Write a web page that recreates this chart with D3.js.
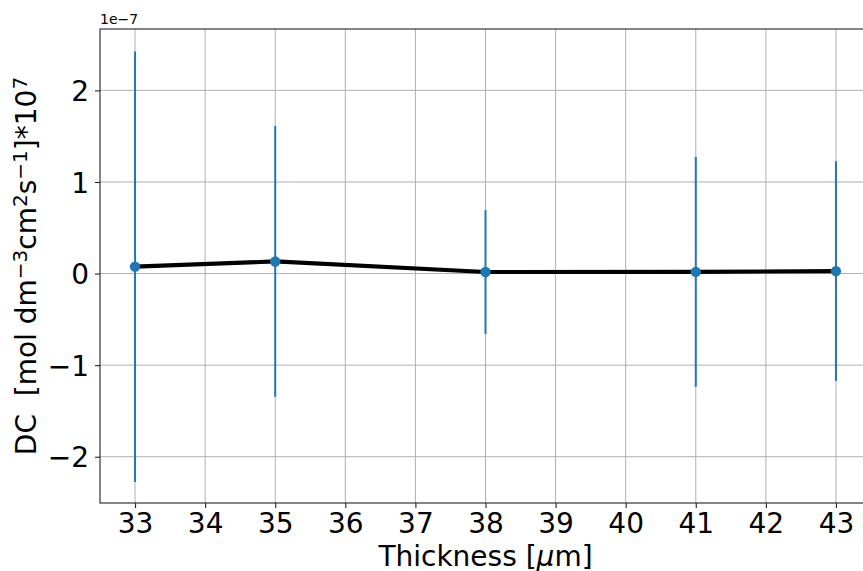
<!DOCTYPE html>
<html>
<head>
<meta charset="utf-8">
<script src="https://cdn.jsdelivr.net/npm/d3@7"></script>
<style>
  body { margin: 0; background: white; }
  text { font-family: "DejaVu Sans", sans-serif; fill: black; }
</style>
</head>
<body>
<div id="chart"></div>
<script>

// thickness in micrometres
var thickness = [33, 35, 38, 41, 43];
// diffusion coefficient and its error
var dcValues = [0.075e-7, 0.132e-7, 0.017e-7, 0.018e-7, 0.027e-7];
var dcErrors = [2.35e-7, 1.478e-7, 0.676e-7, 1.255e-7, 1.199e-7];
var xTicks = [33, 34, 35, 36, 37, 38, 39, 40, 41, 42, 43];
var yTicks = [-2e-7, -1e-7, 0, 1e-7, 2e-7];

var width = 863, height = 571;
var plotLeft = 100, plotRight = 871, plotTop = 29, plotBottom = 503;

var svg = d3.select("#chart")
    .append("svg")
    .attr("width", width)
    .attr("height", height);

svg.append("rect")
    .attr("width", "100%")
    .attr("height", "100%")
    .attr("fill", "white");

var x = d3.scaleLinear().domain([32.5, 43.5]).range([plotLeft, plotRight]);
var y = d3.scaleLinear().domain([-2.505e-7, 2.67e-7]).range([plotBottom, plotTop]);

function fmt(v) {
    var n = Math.round(v / 1e-7);
    return n < 0 ? "\u2212" + Math.abs(n) : String(n);
}

// grid
var grid = svg.append("g")
    .attr("stroke", "#b0b0b0")
    .attr("stroke-width", 1);

grid.selectAll(".gx")
    .data(xTicks)
    .enter().append("line")
    .attr("x1", function(d) { return x(d); })
    .attr("x2", function(d) { return x(d); })
    .attr("y1", plotTop)
    .attr("y2", plotBottom);

grid.selectAll(".gy")
    .data(yTicks)
    .enter().append("line")
    .attr("x1", plotLeft)
    .attr("x2", plotRight)
    .attr("y1", function(d) { return y(d); })
    .attr("y2", function(d) { return y(d); });

// axes
var xAxis = svg.append("g")
    .attr("transform", "translate(0," + plotBottom + ")")
    .call(d3.axisBottom(x).tickValues(xTicks).tickSize(5).tickPadding(6).tickFormat(d3.format("d")));

var yAxis = svg.append("g")
    .attr("transform", "translate(" + plotLeft + ",0)")
    .call(d3.axisLeft(y).tickValues(yTicks).tickSize(5).tickPadding(6).tickFormat(fmt));

[xAxis, yAxis].forEach(function(a) {
    a.select(".domain").remove();
    a.selectAll("line").attr("stroke", "#222").attr("stroke-width", 1.1);
    a.selectAll("text")
        .style("font-family", "DejaVu Sans")
        .style("font-size", "28px")
        .attr("fill", "black");
});
xAxis.selectAll("text").attr("dy", "0.68em");
yAxis.selectAll("text").attr("dy", "0.36em");

// spines
svg.append("rect")
    .attr("x", plotLeft)
    .attr("y", plotTop)
    .attr("width", plotRight - plotLeft)
    .attr("height", plotBottom - plotTop)
    .attr("fill", "none")
    .attr("stroke", "#222")
    .attr("stroke-width", 1.1);

// error bars
svg.append("g")
    .selectAll("line")
    .data(thickness)
    .enter().append("line")
    .attr("x1", function(d) { return x(d); })
    .attr("x2", function(d) { return x(d); })
    .attr("y1", function(d, i) { return y(dcValues[i] + dcErrors[i]); })
    .attr("y2", function(d, i) { return y(dcValues[i] - dcErrors[i]); })
    .attr("stroke", "#1f77b4")
    .attr("stroke-width", 2);

var line = d3.line()
    .x(function(d) { return x(d); })
    .y(function(d, i) { return y(dcValues[i]); });

svg.append("path")
    .datum(thickness)
    .attr("d", line)
    .attr("fill", "none")
    .attr("stroke", "black")
    .attr("stroke-width", 4.2)
    .attr("stroke-linejoin", "round");

svg.append("g")
    .selectAll("circle")
    .data(thickness)
    .enter().append("circle")
    .attr("cx", function(d) { return x(d); })
    .attr("cy", function(d, i) { return y(dcValues[i]); })
    .attr("r", 5.2)
    .attr("fill", "#1f77b4");

// offset text
svg.append("text")
    .attr("x", plotLeft)
    .attr("y", 24)
    .style("font-size", "14px")
    .text("1e\u22127");

// x label
var xl = svg.append("text")
    .attr("x", (plotLeft + plotRight) / 2)
    .attr("y", 566)
    .attr("text-anchor", "middle")
    .style("font-size", "28px");
xl.append("tspan").text("Thickness [");
xl.append("tspan").style("font-style", "italic").text("\u03bc");
xl.append("tspan").text("m]");

// y label
var yl = svg.append("text")
    .attr("transform", "translate(36," + ((plotTop + plotBottom) / 2) + ") rotate(-90)")
    .attr("text-anchor", "middle")
    .attr("xml:space", "preserve")
    .style("font-size", "28px");

var parts = [
    ["DC  [mol dm", false], ["\u22123", true], ["cm", false], ["2", true],
    ["s", false], ["\u22121", true], ["]*10", false], ["7", true]
];
parts.forEach(function(p) {
    var t = yl.append("tspan").text(p[0]);
    if (p[1]) {
        t.attr("baseline-shift", "45%").style("font-size", "20px");
    }
});

</script>
</body>
</html>
